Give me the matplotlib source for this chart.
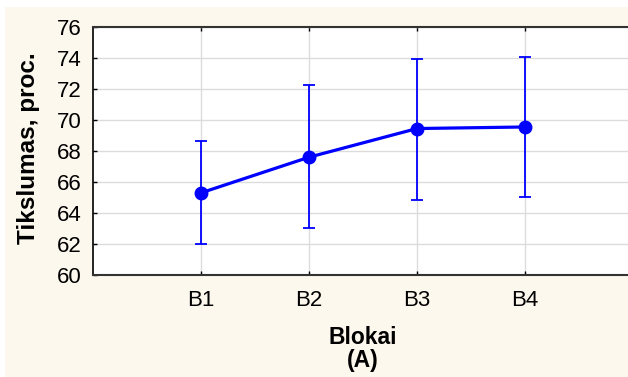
import numpy as np
import matplotlib.pyplot as plt

plt.rcParams['font.family'] = ['Liberation Sans', 'DejaVu Sans']

blocks = ['B1', 'B2', 'B3', 'B4']
means = [65.3, 67.6, 69.45, 69.55]
lower = [62.0, 63.05, 64.85, 65.05]
upper = [68.65, 72.25, 73.95, 74.05]

x = np.arange(1, len(blocks) + 1)
err = [np.array(means) - np.array(lower), np.array(upper) - np.array(means)]

fig = plt.figure(figsize=(6.28, 3.77), dpi=100, facecolor='white')
bg = fig.add_axes([5 / 628, 0, 1, 1 - 7 / 377])
bg.set_facecolor('#fdf8ee')
bg.set_xticks([])
bg.set_yticks([])
for s in bg.spines.values():
    s.set_visible(False)

ax = fig.add_axes([93 / 628, 1 - 275 / 377, 540 / 628, 248 / 377])
ax.set_facecolor('white')
ax.errorbar(x, means, yerr=err, color='#0000ff', lw=2.3, marker='o', ms=9,
            elinewidth=1.3, capsize=4, capthick=1.3, zorder=3)

ax.set_xlim(0, 5)
ax.set_ylim(60, 76)
ax.set_xticks(x)
ax.set_xticklabels(blocks)
ax.set_yticks(np.arange(60, 77, 2))
ax.grid(True, color='#dcdcdc', lw=1)
ax.set_axisbelow(True)
ax.tick_params(direction='in', length=3, width=1, top=True, right=True,
               labelsize=16, pad=8)
ax.tick_params(axis='x', pad=11)
for side in ['top', 'bottom']:
    ax.spines[side].set_color('#333333')
    ax.spines[side].set_linewidth(1.5)
ax.spines['left'].set_color('black')
ax.spines['left'].set_linewidth(1.2)

ax.set_xlabel('Blokai\n(A)', fontsize=16.5, fontweight='bold', linespacing=1.0)
ax.xaxis.set_label_coords(0.5, -0.205)
ax.set_ylabel('Tikslumas, proc.', fontsize=17.5, fontweight='bold')
ax.yaxis.set_label_coords(-0.098, 0.51)

fig.savefig('out.png', dpi=100)
